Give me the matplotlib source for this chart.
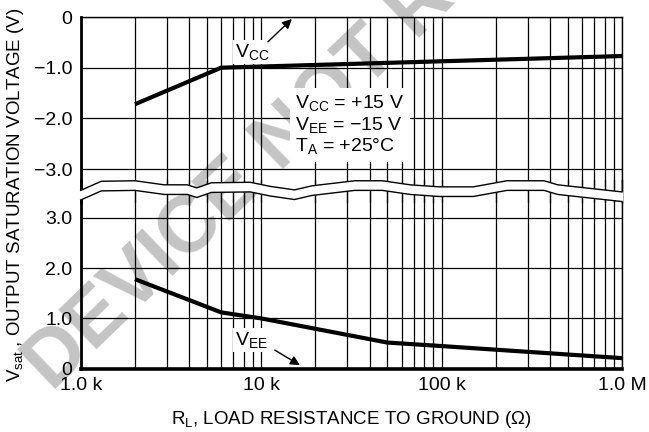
import numpy as np
import matplotlib
matplotlib.use("Agg")
import matplotlib.pyplot as plt
from matplotlib.patches import Polygon
from matplotlib.lines import Line2D
from matplotlib.ticker import LogLocator, FixedLocator, FixedFormatter, NullFormatter

FONT = ['Liberation Sans', 'DejaVu Sans']
plt.rcParams['font.family'] = FONT
plt.rcParams['mathtext.fontset'] = 'custom'
plt.rcParams['mathtext.rm'] = 'Liberation Sans'
plt.rcParams['mathtext.default'] = 'regular'

# ---------------- data ----------------
vcc_r = [2e3, 6e3, 1e6]
vcc_v = [-1.72, -1.0, -0.77]

vee_r = [2e3, 6e3, 10e3, 50e3, 100e3, 1e6]
vee_v = [1.78, 1.12, 1.0, 0.52, 0.45, 0.21]

x_ticks = [1e3, 1e4, 1e5, 1e6]
x_ticklabels = ['1.0 k', '10 k', '100 k', '1.0 M']
top_ticks = [0, -1, -2, -3]
top_ticklabels = ['0', '\u22121.0', '\u22122.0', '\u22123.0']
bot_ticks = [0, 1, 2, 3]
bot_ticklabels = ['0', '1.0', '2.0', '3.0']

# axis-break outline (upper edge), in ohms / volts of the upper panel
break_r = [1.0e3, 1.14e3, 1.30e3, 2.0e3, 2.9e3, 3.9e3, 4.4e3, 5.3e3, 8.7e3,
           11.2e3, 15.3e3, 19.1e3, 33e3, 47e3, 67e3, 97e3, 150e3, 230e3, 370e3, 440e3, 1.0e6]
break_v = [-3.42, -3.33, -3.24, -3.23, -3.31, -3.31, -3.37, -3.27, -3.26,
           -3.34, -3.41, -3.33, -3.23, -3.23, -3.31, -3.35, -3.35, -3.23, -3.23, -3.31, -3.45]
break_gap = 0.19

# ---------------- figure ----------------
fig = plt.figure(figsize=(6.49, 4.32), dpi=100)
fig.patch.set_facecolor('white')

L, R = 80.7 / 649, 622 / 649
ax_top = fig.add_axes([L, 1 - 203 / 432, R - L, (203 - 17) / 432])
ax_bot = fig.add_axes([L, 1 - 368.7 / 432, R - L, (368.7 - 180) / 432])

top_ylim = (-(203 - 17) / 50.7, 0)
bot_ylim = (0, (368.7 - 180) / 50.3)

for ax in (ax_top, ax_bot):
    ax.set_facecolor('none')
    ax.set_xscale('log')
    ax.set_xlim(1e3, 1e6)
    ax.xaxis.set_major_locator(FixedLocator(x_ticks))
    ax.xaxis.set_minor_locator(LogLocator(base=10, subs=np.arange(2, 10)))
    ax.xaxis.set_minor_formatter(NullFormatter())
    ax.grid(True, which='both', axis='x', color='black', lw=0.9)
    ax.grid(True, which='major', axis='y', color='black', lw=0.9)
    ax.tick_params(which='both', length=0, labelsize=14, pad=6.0)
    ax.spines['right'].set_linewidth(1.0)
    ax.spines['left'].set_linewidth(2.0)
    ax.set_axisbelow(True)

ax_top.set_ylim(*top_ylim)
ax_top.yaxis.set_major_locator(FixedLocator(top_ticks))
ax_top.yaxis.set_major_formatter(FixedFormatter(top_ticklabels))
ax_top.spines['bottom'].set_visible(False)
ax_top.spines['top'].set_linewidth(1.0)
ax_top.tick_params(axis='x', labelbottom=False)

ax_bot.set_ylim(*bot_ylim)
ax_bot.yaxis.set_major_locator(FixedLocator(bot_ticks))
ax_bot.yaxis.set_major_formatter(FixedFormatter(bot_ticklabels))
ax_bot.spines['top'].set_visible(False)
ax_bot.spines['bottom'].set_linewidth(2.6)
ax_bot.xaxis.set_major_formatter(FixedFormatter(x_ticklabels))

# curves
ax_top.plot(vcc_r, vcc_v, color='black', lw=3.0, solid_capstyle='butt', zorder=5)
ax_bot.plot(vee_r, vee_v, color='black', lw=3.0, solid_capstyle='butt', zorder=5)

# annotations
ax_top.text(8.9e3, -0.69, r'V$_{CC}$', fontsize=14, ha='center', va='center',
            bbox=dict(facecolor='white', edgecolor='none', pad=1.5), zorder=6)
ax_top.annotate('', xy=(14.8e3, -0.04), xytext=(10.9e3, -0.49),
                arrowprops=dict(arrowstyle='-|>', color='black', lw=1.0,
                                mutation_scale=14, shrinkA=0, shrinkB=0), zorder=6)
ax_bot.text(8.8e3, 0.57, r'V$_{EE}$', fontsize=14, ha='center', va='center',
            bbox=dict(facecolor='white', edgecolor='none', pad=1.5), zorder=6)
ax_bot.annotate('', xy=(16.4e3, 0.07), xytext=(11.9e3, 0.37),
                arrowprops=dict(arrowstyle='-|>', color='black', lw=1.0,
                                mutation_scale=14, shrinkA=0, shrinkB=0), zorder=6)

cond = 'V$_{CC}$ = +15 V\nV$_{EE}$ = \u221215 V\nT$_{A}$ = +25\u00b0C'
ax_top.text(15.5e3, -2.13, cond, fontsize=14, ha='left', va='center',
            linespacing=1.1,
            bbox=dict(facecolor='white', edgecolor='none', pad=4), zorder=6)

# axis break band
br = np.array(break_r, dtype=float)
bv = np.array(break_v, dtype=float)
br_ext = br.copy()
br_ext[0] *= 0.985
br_ext[-1] *= 1.015
poly_x = np.concatenate([br_ext, br_ext[::-1]])
poly_y = np.concatenate([bv, (bv - break_gap)[::-1]])
band = Polygon(np.column_stack([poly_x, poly_y]), closed=True, facecolor='white',
               edgecolor='none', transform=ax_top.transData, zorder=10)
fig.add_artist(band)
fig.add_artist(Line2D(br, bv, color='black', lw=1.0, transform=ax_top.transData, zorder=11))
fig.add_artist(Line2D(br, bv - break_gap, color='black', lw=1.0,
                      transform=ax_top.transData, zorder=11))

# axis titles
fig.text(351 / 649, 1 - 419 / 432, r'R$_{L}$, LOAD RESISTANCE TO GROUND ($\Omega$)',
         fontsize=13.5, ha='center', va='center')
fig.text(16 / 649, 1 - 195 / 432, r'V$_{sat}$ , OUTPUT SATURATION VOLTAGE (V)',
         fontsize=13.5, ha='center', va='center', rotation=90)

# watermark (runs off the top edge as in the reference)
fig.text(52 / 649, 1 - 392 / 432, 'DEVICE NOT RECOMMENDED',
         fontsize=57, fontweight='bold', color='#c4c4c4', rotation=44,
         rotation_mode='anchor', ha='left', va='baseline', zorder=-1,
         family=['Liberation Sans', 'DejaVu Sans'])

fig.savefig('out.png', dpi=100, facecolor='white')
